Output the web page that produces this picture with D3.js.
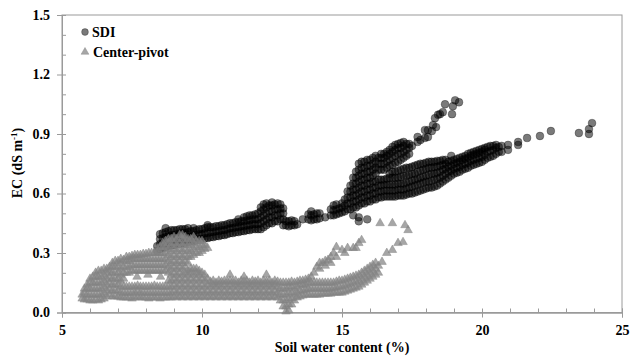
<!DOCTYPE html>
<html>
<head>
<meta charset="utf-8">
<script src="https://cdn.jsdelivr.net/npm/d3@7"></script>
<style>
  html, body { margin: 0; padding: 0; background: #fff; }
  svg { display: block; }
  text { font-family: "Liberation Serif", "Times New Roman", serif; font-weight: bold; fill: #000; }
</style>
</head>
<body>
<svg id="chart" width="631" height="356"></svg>
<script>
// ---- Data ----
// Each entry: [soil water content %, EC values observed at that water content ...]
const sdiColumns = [
  [8.4, 0.31,0.335],
  [8.5, 0.32,0.345,0.37,0.395],
  [8.6, 0.325,0.35,0.375,0.4],
  [8.7, 0.33,0.355,0.38,0.405,0.425],
  [8.8, 0.335,0.36,0.385,0.41],
  [8.9, 0.34,0.365,0.39,0.415],
  [9.0, 0.34,0.365,0.39,0.415],
  [9.1, 0.345,0.37,0.395,0.415],
  [9.2, 0.345,0.37,0.395,0.42],
  [9.3, 0.35,0.375,0.4,0.42],
  [9.4, 0.35,0.375,0.4,0.42],
  [9.5, 0.355,0.38,0.405,0.425],
  [9.6, 0.36,0.385,0.41],
  [9.7, 0.36,0.385,0.41,0.425],
  [9.8, 0.365,0.39,0.415],
  [9.9, 0.37,0.395,0.42],
  [10.0, 0.37,0.395,0.42],
  [10.1, 0.375,0.4,0.425],
  [10.2, 0.375,0.4,0.43,0.44],
  [10.3, 0.38,0.405,0.43],
  [10.4, 0.38,0.405,0.43],
  [10.5, 0.385,0.41,0.435],
  [10.6, 0.385,0.41,0.435],
  [10.7, 0.39,0.415,0.44],
  [10.8, 0.39,0.415,0.44],
  [10.9, 0.395,0.42,0.445],
  [11.0, 0.4,0.425,0.45],
  [11.1, 0.4,0.425,0.45],
  [11.2, 0.405,0.43,0.455],
  [11.3, 0.405,0.43,0.455,0.47],
  [11.4, 0.41,0.435,0.46],
  [11.5, 0.41,0.435,0.46,0.48],
  [11.6, 0.415,0.44,0.465,0.485],
  [11.7, 0.415,0.44,0.465,0.49],
  [11.8, 0.42,0.445,0.47,0.49],
  [11.9, 0.42,0.445,0.47,0.495],
  [12.0, 0.42,0.445,0.47,0.5],
  [12.1, 0.42,0.45,0.48,0.51,0.53],
  [12.2, 0.43,0.46,0.49,0.52,0.545],
  [12.3, 0.44,0.47,0.5,0.53,0.55],
  [12.4, 0.45,0.48,0.51,0.54],
  [12.5, 0.45,0.48,0.51,0.54,0.555],
  [12.6, 0.46,0.49,0.52,0.545],
  [12.7, 0.46,0.49,0.52,0.55],
  [12.8, 0.47,0.5,0.525,0.545],
  [12.9, 0.44,0.47,0.5,0.525],
  [13.0, 0.44,0.46],
  [13.1, 0.435,0.46],
  [13.2, 0.44,0.465],
  [13.3, 0.44,0.46],
  [13.4, 0.445],
  [13.6, 0.47],
  [13.8, 0.47,0.495],
  [13.9, 0.465,0.49,0.51],
  [14.0, 0.47,0.495],
  [14.1, 0.47,0.5],
  [14.2, 0.475,0.5],
  [14.4, 0.48],
  [14.6, 0.49,0.52],
  [14.7, 0.49,0.515,0.54],
  [14.8, 0.495,0.52,0.545],
  [14.9, 0.5,0.525],
  [15.0, 0.505,0.53,0.55],
  [15.1, 0.51,0.54,0.57],
  [15.2, 0.52,0.55,0.58,0.61],
  [15.3, 0.52,0.55,0.58,0.61,0.64],
  [15.4, 0.49,0.53,0.56,0.59,0.62,0.65,0.68],
  [15.5, 0.53,0.56,0.59,0.62,0.65,0.68,0.71],
  [15.6, 0.46,0.48,0.54,0.57,0.6,0.63,0.66,0.69,0.72,0.75],
  [15.7, 0.55,0.58,0.61,0.64,0.67,0.7,0.73,0.76],
  [15.8, 0.55,0.58,0.61,0.64,0.67,0.7,0.73,0.76],
  [15.9, 0.47,0.56,0.59,0.62,0.65,0.68,0.71,0.74,0.77],
  [16.0, 0.56,0.59,0.62,0.65,0.68,0.71,0.74,0.77],
  [16.1, 0.57,0.6,0.63,0.66,0.69,0.72,0.75,0.78],
  [16.2, 0.57,0.6,0.63,0.66,0.7,0.73,0.76,0.79],
  [16.3, 0.58,0.61,0.64,0.67,0.72,0.75,0.78],
  [16.4, 0.58,0.61,0.64,0.67,0.72,0.75,0.78,0.8],
  [16.5, 0.585,0.615,0.645,0.67,0.72,0.75,0.78,0.8],
  [16.6, 0.585,0.615,0.645,0.675,0.73,0.76,0.79,0.81],
  [16.7, 0.585,0.615,0.645,0.68,0.7,0.74,0.77,0.8,0.82],
  [16.8, 0.585,0.615,0.645,0.68,0.71,0.745,0.78,0.81,0.835],
  [16.9, 0.585,0.615,0.645,0.68,0.71,0.755,0.79,0.82,0.845],
  [17.0, 0.59,0.62,0.65,0.68,0.715,0.76,0.8,0.83,0.85],
  [17.1, 0.59,0.62,0.65,0.685,0.72,0.77,0.8,0.83,0.855],
  [17.2, 0.59,0.62,0.65,0.69,0.725,0.78,0.81,0.84,0.86],
  [17.3, 0.595,0.625,0.655,0.69,0.73,0.79,0.82,0.85],
  [17.4, 0.6,0.63,0.66,0.695,0.73,0.8,0.83,0.85],
  [17.5, 0.6,0.635,0.665,0.7,0.735,0.84],
  [17.6, 0.605,0.64,0.67,0.7,0.74],
  [17.7, 0.61,0.645,0.675,0.71,0.745,0.86,0.885],
  [17.8, 0.615,0.65,0.68,0.715,0.75,0.87],
  [17.9, 0.62,0.655,0.685,0.72,0.75],
  [17.96, 0.88,0.92],
  [18.0, 0.625,0.66,0.69,0.725,0.755],
  [18.07, 0.885,0.92],
  [18.1, 0.63,0.66,0.695,0.73,0.76],
  [18.2, 0.63,0.665,0.7,0.73,0.76],
  [18.21, 0.915],
  [18.25, 0.945],
  [18.3, 0.635,0.67,0.7,0.735,0.76],
  [18.32, 0.98],
  [18.36, 0.935],
  [18.4, 0.64,0.675,0.705,0.735,0.765],
  [18.43, 0.997],
  [18.5, 0.65,0.68,0.71,0.74,0.765,1.0],
  [18.6, 0.66,0.69,0.72,0.745,0.77,1.01],
  [18.68, 1.05],
  [18.7, 0.67,0.7,0.725,0.75,0.77],
  [18.8, 0.68,0.71,0.735,0.76],
  [18.9, 0.69,0.715,0.74,0.765,0.79],
  [18.93, 1.0],
  [18.96, 1.04],
  [19.0, 0.7,0.725,0.75,0.77],
  [19.04, 1.07],
  [19.1, 0.705,0.73,0.755,0.775],
  [19.18, 1.06],
  [19.2, 0.71,0.735,0.76,0.78],
  [19.3, 0.72,0.745,0.77,0.785],
  [19.4, 0.725,0.75,0.775,0.79],
  [19.5, 0.73,0.755,0.78,0.8],
  [19.6, 0.74,0.765,0.79,0.805],
  [19.7, 0.745,0.77,0.795,0.81],
  [19.8, 0.75,0.775,0.8,0.815],
  [19.9, 0.755,0.78,0.805,0.82],
  [20.0, 0.76,0.785,0.81,0.825],
  [20.1, 0.77,0.795,0.82,0.83],
  [20.2, 0.78,0.81,0.835],
  [20.3, 0.785,0.815,0.84],
  [20.4, 0.79,0.82,0.84],
  [20.5, 0.8,0.83,0.845],
  [20.6, 0.81,0.835],
  [20.7, 0.81,0.84],
  [20.93, 0.82,0.845],
  [21.29, 0.845,0.86],
  [21.61, 0.88],
  [22.07, 0.89],
  [22.46, 0.915],
  [23.46, 0.905],
  [23.82, 0.9,0.925],
  [23.93, 0.955]
];

const centerPivotColumns = [
  [5.72, 0.07,0.09],
  [5.8, 0.065,0.1,0.12],
  [5.9, 0.065,0.09,0.12,0.14],
  [6.0, 0.06,0.09,0.12,0.15,0.17],
  [6.1, 0.06,0.09,0.12,0.15,0.18],
  [6.2, 0.065,0.09,0.12,0.15,0.18,0.2],
  [6.3, 0.06,0.09,0.12,0.15,0.18,0.21],
  [6.4, 0.065,0.09,0.12,0.15,0.18,0.21],
  [6.5, 0.07,0.1,0.13,0.16,0.19,0.22],
  [6.6, 0.08,0.11,0.14,0.17,0.2,0.22],
  [6.7, 0.09,0.12,0.15,0.18,0.21,0.23],
  [6.8, 0.08,0.11,0.14,0.17,0.2,0.23,0.25],
  [6.9, 0.08,0.11,0.14,0.17,0.2,0.23,0.26],
  [7.0, 0.08,0.11,0.14,0.17,0.2,0.23,0.26],
  [7.1, 0.075,0.1,0.13,0.16,0.19,0.22,0.25,0.27],
  [7.2, 0.075,0.1,0.13,0.17,0.2,0.23,0.265],
  [7.3, 0.075,0.1,0.13,0.2,0.23,0.26,0.28],
  [7.4, 0.075,0.1,0.13,0.2,0.23,0.26,0.28],
  [7.5, 0.07,0.1,0.13,0.21,0.24,0.27,0.285],
  [7.6, 0.075,0.1,0.13,0.21,0.24,0.27,0.29],
  [7.68, 0.18],
  [7.7, 0.08,0.11,0.135,0.21,0.24,0.27,0.29],
  [7.8, 0.075,0.1,0.13,0.21,0.24,0.27,0.29],
  [7.9, 0.075,0.1,0.13,0.21,0.24,0.27,0.295],
  [8.0, 0.075,0.1,0.13,0.21,0.24,0.27,0.295],
  [8.07, 0.19],
  [8.1, 0.07,0.1,0.13,0.21,0.24,0.27,0.3],
  [8.2, 0.075,0.1,0.13,0.21,0.24,0.27,0.3],
  [8.3, 0.075,0.1,0.135,0.21,0.24,0.27,0.3],
  [8.4, 0.075,0.1,0.13,0.21,0.24,0.27,0.3,0.32],
  [8.5, 0.07,0.1,0.13,0.21,0.24,0.27,0.3,0.33],
  [8.52, 0.18],
  [8.6, 0.075,0.1,0.13,0.21,0.24,0.27,0.3,0.33,0.35],
  [8.7, 0.075,0.1,0.13,0.21,0.24,0.27,0.3,0.33,0.36],
  [8.8, 0.075,0.1,0.13,0.16,0.2,0.23,0.26,0.29,0.32,0.35,0.37],
  [8.9, 0.075,0.1,0.13,0.16,0.19,0.22,0.25,0.28,0.31,0.34,0.37],
  [9.0, 0.08,0.11,0.14,0.17,0.2,0.23,0.26,0.29,0.32,0.35,0.38],
  [9.1, 0.075,0.1,0.13,0.16,0.19,0.22,0.25,0.28,0.31,0.34,0.37],
  [9.2, 0.08,0.11,0.14,0.17,0.2,0.23,0.26,0.29,0.32,0.35,0.39],
  [9.3, 0.075,0.1,0.13,0.16,0.19,0.22,0.25,0.28,0.31,0.34,0.37,0.39],
  [9.4, 0.08,0.11,0.14,0.17,0.2,0.23,0.26,0.29,0.32,0.35,0.38],
  [9.5, 0.075,0.1,0.13,0.16,0.19,0.21,0.25,0.28,0.31,0.34,0.37],
  [9.6, 0.08,0.11,0.14,0.17,0.2,0.22,0.28,0.31,0.34,0.37],
  [9.7, 0.075,0.1,0.13,0.16,0.19,0.22,0.29,0.32,0.35,0.38],
  [9.8, 0.08,0.11,0.14,0.17,0.2,0.22,0.3,0.33,0.36],
  [9.9, 0.075,0.1,0.13,0.16,0.19,0.21,0.3,0.33,0.36],
  [10.0, 0.08,0.11,0.14,0.17,0.2,0.31,0.34,0.36],
  [10.1, 0.075,0.1,0.13,0.16,0.19,0.32,0.34],
  [10.2, 0.08,0.11,0.14,0.17,0.325],
  [10.3, 0.075,0.1,0.13,0.155],
  [10.4, 0.08,0.11,0.14,0.16],
  [10.5, 0.075,0.1,0.13,0.15],
  [10.6, 0.08,0.11,0.14,0.16],
  [10.7, 0.075,0.1,0.13,0.155],
  [10.8, 0.08,0.11,0.14,0.16],
  [10.9, 0.075,0.1,0.13,0.155],
  [11.0, 0.08,0.11,0.14,0.16,0.19],
  [11.1, 0.075,0.1,0.13,0.155],
  [11.2, 0.08,0.11,0.14,0.16],
  [11.3, 0.075,0.1,0.13,0.15],
  [11.4, 0.08,0.11,0.14,0.16],
  [11.5, 0.075,0.1,0.13,0.155,0.18],
  [11.6, 0.08,0.11,0.14,0.16],
  [11.7, 0.075,0.1,0.13,0.15],
  [11.8, 0.08,0.11,0.14,0.16],
  [11.9, 0.075,0.1,0.13,0.155],
  [12.0, 0.08,0.11,0.14,0.16],
  [12.1, 0.075,0.1,0.13,0.15],
  [12.2, 0.08,0.11,0.14,0.16],
  [12.3, 0.075,0.1,0.13,0.155,0.19],
  [12.4, 0.08,0.11,0.14,0.16],
  [12.5, 0.075,0.1,0.13,0.15],
  [12.6, 0.08,0.11,0.14,0.16],
  [12.7, 0.075,0.1,0.13,0.155],
  [12.8, 0.06,0.09,0.12,0.15],
  [12.9, 0.03,0.06,0.09,0.12,0.15],
  [13.0, 0.005,0.03,0.06,0.09,0.12,0.15],
  [13.1, 0.01,0.04,0.07,0.1,0.13,0.15],
  [13.2, 0.04,0.07,0.1,0.13,0.155],
  [13.3, 0.06,0.09,0.12,0.15],
  [13.4, 0.075,0.1,0.13,0.155],
  [13.5, 0.08,0.11,0.14,0.16],
  [13.6, 0.085,0.11,0.14,0.16],
  [13.7, 0.09,0.115,0.14,0.165],
  [13.8, 0.09,0.12,0.15,0.17],
  [13.9, 0.09,0.12,0.15,0.18],
  [14.0, 0.09,0.12,0.15,0.2],
  [14.1, 0.09,0.12,0.15,0.23],
  [14.2, 0.09,0.12,0.15,0.22,0.25],
  [14.3, 0.095,0.12,0.15,0.25],
  [14.4, 0.095,0.12,0.15,0.235,0.26],
  [14.5, 0.095,0.12,0.15,0.265],
  [14.6, 0.095,0.12,0.15,0.25,0.28],
  [14.7, 0.1,0.125,0.15,0.3],
  [14.8, 0.1,0.125,0.155,0.28,0.33],
  [14.9, 0.1,0.13,0.16],
  [15.0, 0.1,0.13,0.16,0.315],
  [15.1, 0.105,0.135,0.165,0.3],
  [15.2, 0.11,0.14,0.17,0.325],
  [15.3, 0.115,0.145,0.175],
  [15.4, 0.12,0.15,0.18,0.325],
  [15.5, 0.125,0.155,0.185,0.325],
  [15.6, 0.13,0.16,0.19,0.35],
  [15.7, 0.14,0.17,0.2,0.365],
  [15.8, 0.15,0.18,0.21],
  [15.9, 0.16,0.19,0.22],
  [16.0, 0.17,0.2,0.23],
  [16.1, 0.18,0.21,0.24],
  [16.2, 0.19,0.22,0.25],
  [16.3, 0.2,0.235],
  [16.36, 0.45],
  [16.43, 0.255],
  [16.6, 0.3],
  [16.8, 0.315,0.45],
  [17.0, 0.35],
  [17.18, 0.355],
  [17.25, 0.44],
  [17.36, 0.415]
];

const seriesNames = ["SDI", "Center-pivot"];
const xTickValues = [5, 10, 15, 20, 25];
const xMinorTickValues = [5,6,7,8,9,10,11,12,13,14,15,16,17,18,19,20,21,22,23,24,25];
const yTickValues = [0, 0.3, 0.6, 0.9, 1.2, 1.5];
const yMinorTickValues = [0,0.1,0.2,0.3,0.4,0.5,0.6,0.7,0.8,0.9,1.0,1.1,1.2,1.3,1.4,1.5];
const xTitle = "Soil water content (%)";

// ---- Build point lists ----
const flatten = cols => cols.flatMap(([x, ...ys]) => ys.map(y => ({ x, y })));
const sdi = flatten(sdiColumns);
const cp = flatten(centerPivotColumns);

// ---- Chart ----
const plot = { left: 62, right: 622, top: 15, bottom: 312.5 };
const svg = d3.select("#chart");

const x = d3.scaleLinear().domain([5, 25]).range([plot.left, plot.right]);
const y = d3.scaleLinear().domain([0, 1.5]).range([plot.bottom, plot.top]);

const axisColor = "#9a9a9a";

// frame
svg.append("rect")
  .attr("x", plot.left).attr("y", plot.top)
  .attr("width", plot.right - plot.left).attr("height", plot.bottom - plot.top)
  .attr("fill", "none").attr("stroke", axisColor).attr("stroke-width", 1);

// minor ticks (inside)
const gxm = svg.append("g").attr("transform", `translate(0,${plot.bottom})`)
  .call(d3.axisBottom(x).tickValues(xMinorTickValues).tickSize(-4).tickFormat(""));
const gym = svg.append("g").attr("transform", `translate(${plot.left},0)`)
  .call(d3.axisLeft(y).tickValues(yMinorTickValues).tickSize(-4).tickFormat(""));

// major axes
const gx = svg.append("g").attr("transform", `translate(0,${plot.bottom})`)
  .call(d3.axisBottom(x).tickValues(xTickValues).tickSize(5).tickPadding(8).tickFormat(d3.format("d")));
const gy = svg.append("g").attr("transform", `translate(${plot.left},0)`)
  .call(d3.axisLeft(y).tickValues(yTickValues).tickSize(5).tickPadding(7).tickFormat(d3.format(".1f")));

[gxm, gym, gx, gy].forEach(g => {
  g.selectAll("path.domain").attr("stroke", axisColor);
  g.selectAll(".tick line").attr("stroke", axisColor);
});
[gx, gy].forEach(g => {
  g.selectAll(".tick text")
    .attr("fill", "#000")
    .style("font-family", '"Liberation Serif", "Times New Roman", serif')
    .style("font-weight", "bold")
    .style("font-size", "14px");
});

// markers
const circleR = 3.9;
const triSymbol = d3.symbol().type(d3.symbolTriangle).size(32);
const circleStyle = sel => sel
  .attr("fill", "#000").attr("fill-opacity", 0.52)
  .attr("stroke", "#000").attr("stroke-opacity", 0.35).attr("stroke-width", 0.8);
const triStyle = sel => sel
  .attr("fill", "#838383").attr("fill-opacity", 0.72)
  .attr("stroke", "#838383").attr("stroke-opacity", 0.55).attr("stroke-width", 0.8);

const gData = svg.append("g");
gData.append("g").selectAll("circle").data(sdi).join("circle")
  .attr("cx", d => x(d.x)).attr("cy", d => y(d.y)).attr("r", circleR)
  .call(circleStyle);

gData.append("g").selectAll("path").data(cp).join("path")
  .attr("d", triSymbol)
  .attr("transform", d => `translate(${x(d.x)},${y(d.y)})`)
  .call(triStyle);

// legend
const lg = svg.append("g");
lg.append("circle").attr("cx", 85).attr("cy", 32).attr("r", 3.4).call(circleStyle);
lg.append("text").attr("x", 92).attr("y", 37).style("font-size", "14px").text(seriesNames[0]);
lg.append("path").attr("d", d3.symbol().type(d3.symbolTriangle).size(26)).attr("transform", "translate(85,52)")
  .call(triStyle);
lg.append("text").attr("x", 93).attr("y", 57).style("font-size", "14px").text(seriesNames[1]);

// axis titles
svg.append("text").attr("x", (plot.left + plot.right) / 2).attr("y", 352)
  .attr("text-anchor", "middle").style("font-size", "14px").text(xTitle);

const yt = svg.append("text")
  .attr("transform", `translate(22,163) rotate(-90)`)
  .attr("text-anchor", "middle").style("font-size", "14px");
yt.append("tspan").text("EC (dS m");
yt.append("tspan").attr("dy", -5).style("font-size", "9px").text("-1");
yt.append("tspan").attr("dy", 5).text(")");
</script>
</body>
</html>
